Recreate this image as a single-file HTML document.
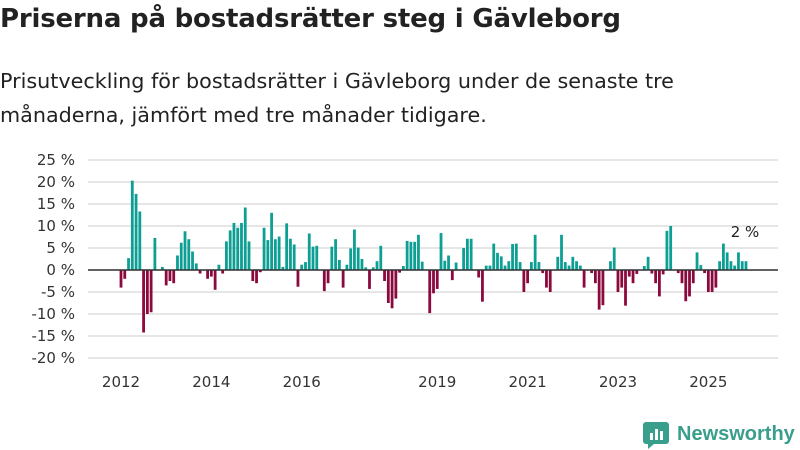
<!DOCTYPE html>
<html><head><meta charset="utf-8"><style>
body{margin:0;background:#fff;width:800px;height:450px;overflow:hidden;font-family:"DejaVu Sans","Liberation Sans",sans-serif;color:#222}
h1{position:absolute;left:0;top:4px;margin:0;font-size:26px;font-weight:bold;letter-spacing:-0.2px;white-space:nowrap}
p{position:absolute;left:0;top:64px;margin:0;font-size:20.7px;line-height:34px;width:800px;white-space:nowrap}
svg{position:absolute;left:0;top:0}
</style></head><body>
<h1>Priserna på bostadsrätter steg i Gävleborg</h1>
<p>Prisutveckling för bostadsrätter i Gävleborg under de senaste tre<br>månaderna, jämfört med tre månader tidigare.</p>
<svg id="chart" width="800" height="450"></svg>
<script>
const values = [-4,-2,2.7,20.3,17.3,13.3,-14.2,-10,-9.6,7.3,0,0.7,-3.5,-2.5,-3,3.3,6.2,8.8,7,4.2,1.5,-0.8,0,-2,-1.5,-4.5,1.2,-0.8,6.5,9,10.7,9.6,10.7,14.2,6.5,-2.5,-3,-0.5,9.6,6.8,13,7,7.6,0.7,10.6,7.1,5.8,-3.8,1.2,1.8,8.3,5.3,5.5,0,-4.8,-3,5.3,7,2.3,-4,1.2,4.9,9.2,5.1,2.5,0.6,-4.3,0.6,2,5.5,-2.5,-7.5,-8.7,-6.5,-0.6,0.9,6.6,6.4,6.4,8,1.9,0,-9.8,-5.3,-4.3,8.4,2.1,3.3,-2.3,1.7,0,5,7.1,7.1,0,-1.7,-7.2,1,1,6,3.9,3.1,1,2,5.9,6,1.8,-5,-3,1.8,8,1.8,-0.7,-4,-5,0,3,8,1.8,1,3,2,1,-4,0,-0.7,-3,-9,-8,0,2,5.1,-5,-4,-8.1,-1.5,-3,-0.9,0,0.9,3,-0.8,-3,-6,-1,8.9,10,0,-0.7,-3,-7.1,-6,-3,4,1.1,-0.7,-5,-5,-4,2,6,4,2,1,4,2,2];
const yTicks = [25,20,15,10,5,0,-5,-10,-15,-20];
const xTickYears = [2012,2014,2016,2019,2021,2023,2025];
const startYear = 2012;
const svg = document.getElementById('chart');
const NS = 'http://www.w3.org/2000/svg';
const FONT = 'DejaVu Sans, Liberation Sans, sans-serif';
function y(v){return 270 - v*4.4;}
function x(i){return 121 + i*3.765;}
function mk(tag, attrs, text){const e=document.createElementNS(NS,tag);for(const k in attrs)e.setAttribute(k,attrs[k]);if(text!==undefined)e.textContent=text;svg.appendChild(e);return e;}
yTicks.forEach(t=>{
  const g = mk('line',{x1:88,x2:778,y1:y(t),y2:y(t),stroke:'#dddddd','stroke-width':1.5});
  
  
  const l = mk('text',{x:75,y:y(t)+5,'text-anchor':'end','font-size':15,fill:'#333','font-family':FONT}, t+' %');
  
  
});
values.forEach((v,i)=>{
  const top = v>=0 ? y(v) : y(0);
  const h = Math.abs(y(v)-y(0));
  const r = mk('rect',{x:x(i)-1.4,y:top,width:2.8,height:Math.max(h,0),fill: v>=0?'#0e9f94':'#8b0a3e'});
  
  
});
const z = mk('line',{x1:88,x2:778,y1:y(0),y2:y(0),stroke:'#333','stroke-width':1.5});


xTickYears.forEach(yr=>{
  const xl = mk('text',{x:x((yr-startYear)*12),y:387,'text-anchor':'middle','font-size':15,fill:'#333','font-family':FONT}, String(yr));
  
  
});
const last = values.length-1;
const lab = mk('text',{x:x(last)-1,y:y(values[last])-24,'text-anchor':'middle','font-size':15,fill:'#222','font-family':FONT}, Math.round(values[last])+' %');


</script>
<svg width="800" height="450" style="pointer-events:none">
  <path d="M646 422 h20 a3 3 0 0 1 3 3 v16 a3 3 0 0 1 -3 3 h-12 l-6 5 v-5 h-2 a3 3 0 0 1 -3 -3 v-16 a3 3 0 0 1 3 -3z" fill="#3a9e8c"/>
  <rect x="650" y="433" width="3" height="7" fill="#fff"/><rect x="655" y="429" width="3" height="11" fill="#fff"/><rect x="660" y="431" width="3" height="9" fill="#fff"/>
  <text x="677" y="440" font-size="20" font-weight="bold" fill="#3a9e8c" font-family="Liberation Sans, sans-serif">Newsworthy</text>
</svg>
</body></html>
